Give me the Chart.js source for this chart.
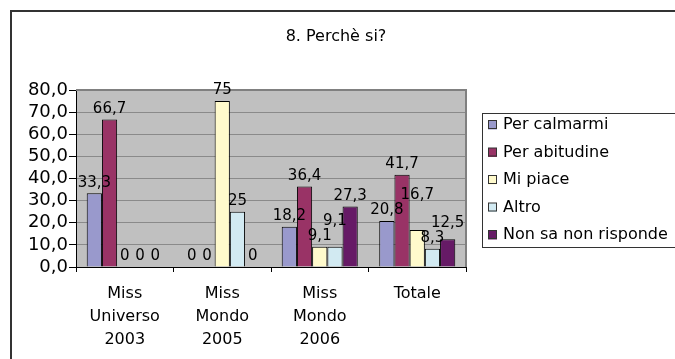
<!DOCTYPE html>
<html>
<head>
<meta charset="utf-8">
<script src="https://cdn.jsdelivr.net/npm/chart.js@4.4.0/dist/chart.umd.min.js"></script>
<style>
html,body{margin:0;padding:0;background:#fff;}
#wrap{position:relative;width:675px;height:359px;}
</style>
</head>
<body>
<div id="wrap"><canvas id="c" width="675" height="359"></canvas></div>
<script>
const categories = [["Miss","Universo","2003"],["Miss","Mondo","2005"],["Miss","Mondo","2006"],["Totale"]];
const perCalmarmi = [33.3, 0, 18.2, 20.8];
const perAbitudine = [66.7, 0, 36.4, 41.7];
const miPiace = [0, 75, 9.1, 16.7];
const altro = [0, 25, 9.1, 8.3];
const nonSa = [0, 0, 27.3, 12.5];
const seriesNames = ["Per calmarmi","Per abitudine","Mi piace","Altro","Non sa non risponde"];
const seriesColors = ["#9999CC","#993366","#FFFACC","#D2EAF2","#661A66"];
const yTicks = [0,10,20,30,40,50,60,70,80];
const titleText = "8. Perchè si?";

const FONT = "'DejaVu Sans', Verdana, sans-serif";
Chart.defaults.font.family = FONT;
Chart.defaults.color = "#000";

const fmt = v => String(v).replace('.', ',');

const bgPlugin = {
  id: 'bg',
  beforeDraw(chart) {
    const {ctx, chartArea: a} = chart;
    ctx.save();
    // outer frame
    ctx.strokeStyle = '#333';
    ctx.lineWidth = 2;
    ctx.beginPath();
    ctx.moveTo(11, 359);
    ctx.lineTo(11, 11);
    ctx.lineTo(675, 11);
    ctx.stroke();
    ctx.fillStyle = '#C0C0C0';
    ctx.fillRect(a.left, a.top, a.right - a.left, a.bottom - a.top);
    // title
    ctx.fillStyle = '#000';
    ctx.font = "16px " + FONT;
    ctx.textAlign = 'center';
    ctx.textBaseline = 'middle';
    ctx.fillText(titleText, 336, 37);
    ctx.restore();
  },
  afterDatasetsDraw(chart) {
    const {ctx, chartArea: a} = chart;
    ctx.save();
    ctx.strokeStyle = '#808080';
    ctx.lineWidth = 2;
    ctx.beginPath();
    ctx.moveTo(a.left, a.top);
    ctx.lineTo(a.right, a.top);
    ctx.lineTo(a.right, a.bottom);
    ctx.stroke();
    // data labels with simple overlap avoidance
    ctx.fillStyle = '#000';
    ctx.font = "15px " + FONT;
    ctx.textAlign = 'center';
    ctx.textBaseline = 'bottom';
    const H = 15;
    const nCat = chart.data.labels.length;
    for (let j = 0; j < nCat; j++) {
      const placed = [];
      chart.data.datasets.forEach((ds, i) => {
        const el = chart.getDatasetMeta(i).data[j];
        const txt = fmt(ds.data[j]);
        const w = ctx.measureText(txt).width;
        let bottom = el.y - 3;
        let box = {l: el.x - w / 2, r: el.x + w / 2, t: bottom - H, b: bottom};
        let moved = true;
        while (moved) {
          moved = false;
          for (const p of placed) {
            if (box.l < p.r - 1 && box.r > p.l + 1 && box.t < p.b && box.b > p.t) {
              bottom = p.t;
              box = {l: box.l, r: box.r, t: bottom - H, b: bottom};
              moved = true;
            }
          }
        }
        placed.push(box);
        ctx.fillText(txt, el.x, bottom);
      });
    }
    // legend
    const lx = 482, ly = 113, lw = 200, lh = 134;
    ctx.fillStyle = '#fff';
    ctx.fillRect(lx, ly, lw, lh);
    ctx.strokeStyle = '#333';
    ctx.lineWidth = 1;
    ctx.strokeRect(lx + 0.5, ly + 0.5, lw, lh);
    ctx.font = "16px " + FONT;
    ctx.textAlign = 'left';
    ctx.textBaseline = 'middle';
    chart.data.datasets.forEach((ds, i) => {
      const cy = ly + 12 + i * 27.5;
      ctx.fillStyle = ds.backgroundColor;
      ctx.fillRect(488, cy - 4.5, 9, 9);
      ctx.strokeStyle = '#333';
      ctx.strokeRect(488.5, cy - 4.5, 8, 8);
      ctx.fillStyle = '#000';
      ctx.fillText(ds.label, 503, cy);
    });
    ctx.restore();
  }
};

const seriesData = [perCalmarmi, perAbitudine, miPiace, altro, nonSa];

new Chart(document.getElementById('c'), {
  type: 'bar',
  data: {
    labels: categories,
    datasets: seriesData.map((d, i) => ({
      label: seriesNames[i],
      data: d,
      backgroundColor: seriesColors[i],
      borderColor: '#000',
      borderWidth: 1,
      categoryPercentage: 0.78,
      barPercentage: 1.0
    }))
  },
  options: {
    responsive: false,
    animation: false,
    layout: { padding: { left: 0, right: 209, top: 90, bottom: 0 } },
    plugins: {
      legend: { display: false },
      tooltip: { enabled: false },
      title: { display: false }
    },
    scales: {
      x: {
        grid: { drawOnChartArea: false, drawTicks: true, tickLength: 5, offset: true, color: '#000' },
        border: { color: '#000', width: 1 },
        ticks: { font: { size: 16, lineHeight: 1.45 }, color: '#000', padding: 10, maxRotation: 0, autoSkip: false },
        afterFit(s) { s.height = 92; }
      },
      y: {
        min: 0, max: 80,
        afterBuildTicks(s) { s.ticks = yTicks.map(v => ({ value: v })); },
        ticks: { font: { size: 18 }, color: '#000', padding: 1, autoSkip: false, callback: v => v.toFixed(1).replace('.', ',') },
        grid: { color: '#8a8a8a', tickColor: '#000', tickLength: 7 },
        border: { color: '#000', width: 1 },
        afterFit(s) { s.width = 76; }
      }
    }
  },
  plugins: [bgPlugin]
});
</script>
</body>
</html>
